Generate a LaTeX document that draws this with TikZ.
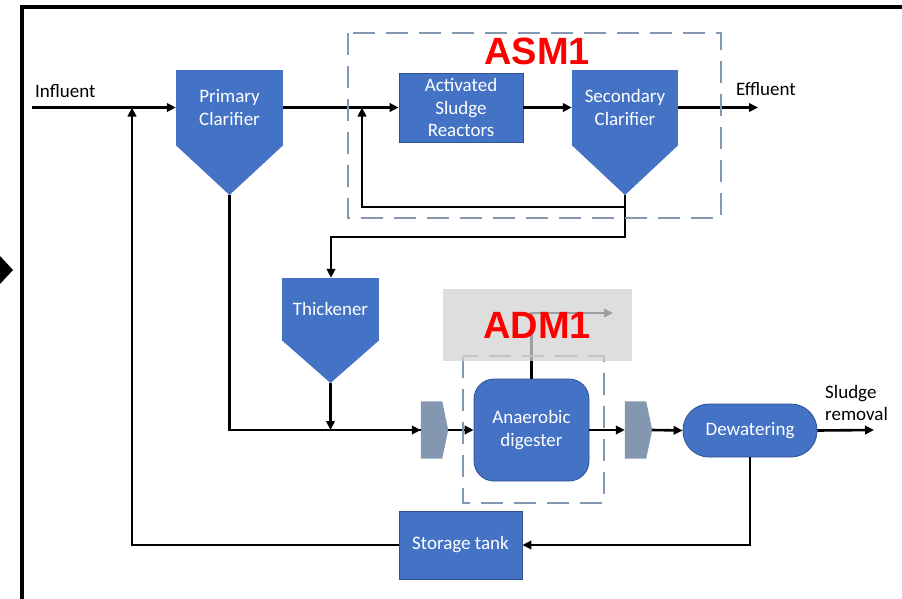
\documentclass[tikz,border=0pt]{standalone}
\usepackage{fontspec}
\setmainfont{Carlito}
\newfontfamily\lsans{Liberation Sans}
\usetikzlibrary{arrows.meta}
\definecolor{boxblue}{RGB}{68,114,196}
\definecolor{boxedge}{RGB}{47,82,143}
\definecolor{dashc}{RGB}{132,151,176}
\definecolor{pumpc}{RGB}{132,151,176}
\definecolor{overlayc}{RGB}{211,211,211}
\begin{document}
\begin{tikzpicture}[x=1pt,y=-1pt,
  lbl/.style={font=\fontsize{19}{22.5}\selectfont, align=center, inner sep=0pt},
  blk/.style={fill=boxblue, text=white, inner sep=0pt, lbl},
  edged/.style={blk, draw=boxedge, line width=0.8pt},
  pump/.style={minimum width=27pt, minimum height=57pt, inner sep=0pt},
  ln/.style={line width=2.6pt},
  arr/.style={line width=2.6pt, -{Triangle[length=9pt,width=8.5pt]}},
  dbox/.style={draw=dashc, line width=2.8pt, dash pattern=on 22pt off 11pt},
  big/.style={text=red, font=\lsans\bfseries\fontsize{38}{40}\selectfont, inner sep=0pt}]
\useasboundingbox (0,0) rectangle (902,598);
\clip (0,0) rectangle (902,598);
\fill[white] (0,0) rectangle (902,598);

% outer frame and left marker
\draw[line width=3.5pt] (22,605) -- (22,7) -- (910,7);
\fill[black] (0,256) -- (13,270) -- (0,284) -- cycle;

% blocks
\node[blk, minimum width=107pt, minimum height=75pt] (pc) at (229.5,107.5) {Primary\\Clarifier};
\coordinate (pcb) at (229.5,195);
\fill[boxblue] (pc.south west) -- (pc.south east) -- (pcb) -- cycle;

\node[edged, minimum width=124pt, minimum height=69pt] (asr) at (461,107.5) {Activated\\Sludge\\Reactors};

\node[blk, minimum width=106pt, minimum height=75pt] (sc) at (625,107.5) {Secondary\\Clarifier};
\coordinate (scb) at (625,195);
\fill[boxblue] (sc.south west) -- (sc.south east) -- (scb) -- cycle;

\node[blk, minimum width=97pt, minimum height=62pt] (thk) at (330.5,309) {Thickener};
\coordinate (thb) at (330.5,383);
\fill[boxblue] (thk.south west) -- (thk.south east) -- (thb) -- cycle;

\node[pump] (g1) at (434.5,430) {};
\fill[pumpc] (g1.north west) -- ([xshift=-6pt]g1.north east) -- (g1.east) -- ([xshift=-6pt]g1.south east) -- (g1.south west) -- cycle;

\node[edged, minimum width=115pt, minimum height=102pt, rounded corners=20pt] (ad) at (531.5,430) {Anaerobic\\digester};

\node[pump] (g2) at (638.5,430) {};
\fill[pumpc] (g2.north west) -- ([xshift=-6pt]g2.north east) -- (g2.east) -- ([xshift=-6pt]g2.south east) -- (g2.south west) -- cycle;

\node[edged, minimum width=134pt, minimum height=53pt, rounded corners=26pt] (dw) at (750,430.5) {Dewatering};

\node[edged, minimum width=123pt, minimum height=68pt] (st) at (460.5,545) {Storage tank};

% texts
\node[lbl, anchor=west] (tin) at (35,91.5) {Influent};
\node[lbl, anchor=west] (teff) at (736,89.5) {Effluent};
\node[lbl, anchor=west, align=left] (tsl) at (825,403) {Sludge\\removal};

% coordinates for free ends / junctions
\coordinate (in) at (32,107.5);
\coordinate (eff) at (758,107.5);
\coordinate (rj) at (362,107.5);
\coordinate (ij) at (132,107.5);
\coordinate (sl) at (874,430);
\coordinate (gas) at (613,313);

% connectors
\draw[arr] (in) -- (pc.west);
\draw[arr] (pc.east) -- (asr.west);
\draw[arr] (asr.east) -- (sc.west);
\draw[arr] (sc.east) -- (eff);
\draw[ln] (scb) -- (625,237) -| (331,270);
\draw[arr] (331,237) -- (thk.north -| 331,0);
\draw[arr] (scb) |- (362,207) -- (rj);
\draw[ln] (pcb) |- (g1.west);
\draw[arr] (228,430) -- (g1.west);
\draw[arr] (thb) -- (330.5,430);
\draw[arr] (g1.east) -- (ad.west);
\draw[arr] (ad.east) -- (g2.west);
\draw[arr] (g2.east) -- (dw.west);
\draw[arr] (dw.east) -- (sl);
\draw[arr] (dw.south) |- (st.east);
\draw[arr] (st.west) -| (ij);
\draw[arr] (ad.north) |- (gas);

% dashed model boundaries
\draw[dbox] (348,33) rectangle (721,218);
\draw[dbox] (463,356) rectangle (604,503);

% overlay and labels
\fill[overlayc, opacity=0.75] (443,289) rectangle (632,361);
\node[big] (asm) at (537,51.5) {ASM1};
\node[big] (adm) at (537,325) {ADM1};
\end{tikzpicture}
\end{document}
